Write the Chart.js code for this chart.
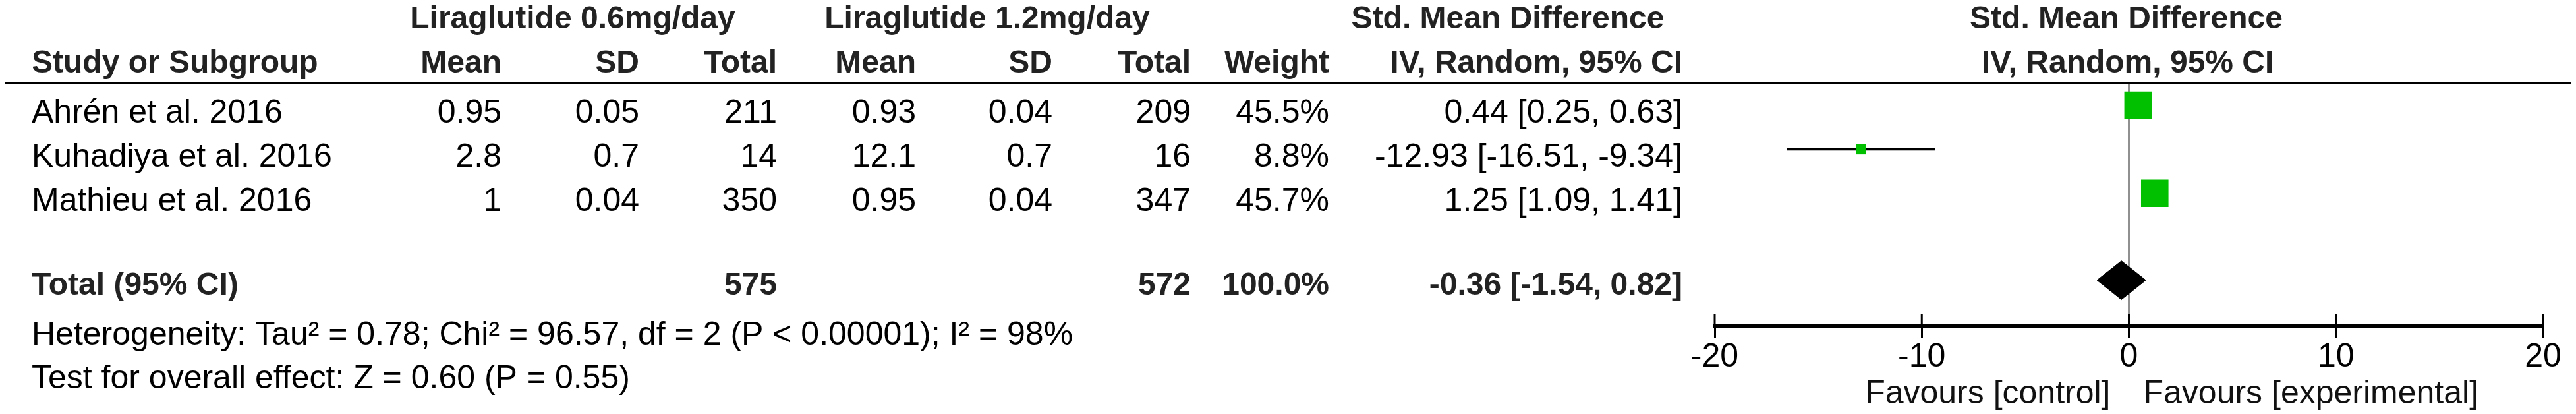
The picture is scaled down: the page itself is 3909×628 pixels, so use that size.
<!DOCTYPE html>
<html>
<head>
<meta charset="utf-8">
<script src="https://cdn.jsdelivr.net/npm/chart.js@4.4.1/dist/chart.umd.min.js"></script>
<style>
  html, body { margin: 0; padding: 0; background: #fff; }
  #wrap { width: 3909px; height: 628px; }
</style>
</head>
<body>
<div id="wrap"><canvas id="forest"></canvas></div>
<script>
// study data
const studies = ['Ahrén et al. 2016', 'Kuhadiya et al. 2016', 'Mathieu et al. 2016'];
const mean06 = [0.95, 2.8, 1];
const sd06 = [0.05, 0.7, 0.04];
const total06 = [211, 14, 350];
const mean12 = [0.93, 12.1, 0.95];
const sd12 = [0.04, 0.7, 0.04];
const total12 = [209, 16, 347];
const weights = [45.5, 8.8, 45.7];
const smd = [0.44, -12.93, 1.25];
const ciLow = [0.25, -16.51, 1.09];
const ciHigh = [0.63, -9.34, 1.41];

// pooled result
const pooledTotal06 = 575;
const pooledTotal12 = 572;
const pooledWeight = 100.0;
const pooled = [-0.36, -1.54, 0.82]; // estimate, low, high

const xTicks = [-20, -10, 0, 10, 20];
const heterogeneity = 'Heterogeneity: Tau² = 0.78; Chi² = 96.57, df = 2 (P < 0.00001); I² = 98%';
const overallTest = 'Test for overall effect: Z = 0.60 (P = 0.55)';
const favours = ['Favours [control]', 'Favours [experimental]'];

// layout
const FONT = '"Liberation Sans", Arial, sans-serif';
const REG = '50px ' + FONT;
const BOLD = 'bold 48px ' + FONT;
const PLOT_TOP = 126, PLOT_BOTTOM = 494;
const TEXT_LEFT = 48;
const colRight = [761, 970, 1179, 1390, 1597, 1807, 2017, 2553];
const TOTAL_ROW = 4.47;

const fmt2 = v => v.toFixed(2);
const ciText = (e, l, h) => fmt2(e) + ' [' + fmt2(l) + ', ' + fmt2(h) + ']';

const squares = {
    data: smd.map((v, i) => ({ x: v, y: i + 0.5 })),
    pointStyle: 'rect',
    pointRadius: ctx => 4.2 * Math.pow(weights[ctx.dataIndex], 0.6) / Math.SQRT2,
    backgroundColor: '#00C000',
    borderWidth: 0,
    order: 0,
};

const ciLines = studies.map((s, i) => ({
    data: [{ x: ciLow[i], y: i + 0.5 }, { x: ciHigh[i], y: i + 0.5 }],
    showLine: true,
    borderColor: '#000',
    borderWidth: 4,
    pointRadius: 0,
    order: 1,
}));

const diamond = {
    data: [
        { x: pooled[1], y: TOTAL_ROW },
        { x: pooled[0], y: TOTAL_ROW - 0.44 },
        { x: pooled[2], y: TOTAL_ROW },
        { x: pooled[0], y: TOTAL_ROW + 0.44 },
        { x: pooled[1], y: TOTAL_ROW },
    ],
    showLine: true,
    fill: 'shape',
    backgroundColor: '#000',
    borderColor: '#000',
    borderWidth: 1,
    pointRadius: 0,
    order: 0,
};

function text(ctx, str, x, y, font, align, color) {
    ctx.font = font;
    ctx.textAlign = align;
    ctx.fillStyle = color || '#000';
    ctx.fillText(str, x, y);
}

const forestDecor = {
    id: 'forestDecor',
    beforeDatasetsDraw(chart) {
        // line of no effect
        const { ctx, chartArea, scales: { x } } = chart;
        const x0 = x.getPixelForValue(0);
        ctx.save();
        ctx.strokeStyle = '#222';
        ctx.lineWidth = 2;
        ctx.beginPath();
        ctx.moveTo(x0, chartArea.top);
        ctx.lineTo(x0, chartArea.bottom);
        ctx.stroke();
        ctx.restore();
    },
    afterDraw(chart) {
        const { ctx, chartArea, scales: { x, y } } = chart;
        const x0 = x.getPixelForValue(0);
        ctx.save();

        // heavy header rule
        ctx.strokeStyle = '#000';
        ctx.lineWidth = 4;
        ctx.beginPath();
        ctx.moveTo(7, chartArea.top);
        ctx.lineTo(3902, chartArea.top);
        ctx.stroke();

        // tick marks above the axis
        ctx.lineWidth = 3;
        xTicks.forEach(v => {
            const px = x.getPixelForValue(v);
            ctx.beginPath();
            ctx.moveTo(px, chartArea.bottom - 18);
            ctx.lineTo(px, chartArea.bottom);
            ctx.stroke();
        });

        ctx.textBaseline = 'alphabetic';
        const H = '#222';
        // header row 1
        text(ctx, 'Liraglutide 0.6mg/day', 869, 43, BOLD, 'center', H);
        text(ctx, 'Liraglutide 1.2mg/day', 1498, 43, BOLD, 'center', H);
        text(ctx, 'Std. Mean Difference', 2288, 43, BOLD, 'center', H);
        text(ctx, 'Std. Mean Difference', x0 - 4, 43, BOLD, 'center', H);
        // header row 2
        text(ctx, 'Study or Subgroup', TEXT_LEFT, 110, BOLD, 'left', H);
        ['Mean', 'SD', 'Total', 'Mean', 'SD', 'Total', 'Weight', 'IV, Random, 95% CI']
            .forEach((h, c) => text(ctx, h, colRight[c], 110, BOLD, 'right', H));
        text(ctx, 'IV, Random, 95% CI', x0 - 2, 110, BOLD, 'center', H);

        // study rows
        studies.forEach((s, i) => {
            const by = y.getPixelForValue(i + 0.5) + 27;
            const cells = [mean06[i], sd06[i], total06[i], mean12[i], sd12[i], total12[i],
                weights[i].toFixed(1) + '%', ciText(smd[i], ciLow[i], ciHigh[i])];
            text(ctx, s, TEXT_LEFT, by, REG, 'left');
            cells.forEach((v, c) => text(ctx, String(v), colRight[c], by, REG, 'right'));
        });

        // total row
        text(ctx, 'Total (95% CI)', TEXT_LEFT, 447, BOLD, 'left', H);
        text(ctx, String(pooledTotal06), colRight[2], 447, BOLD, 'right', H);
        text(ctx, String(pooledTotal12), colRight[5], 447, BOLD, 'right', H);
        text(ctx, pooledWeight.toFixed(1) + '%', colRight[6], 447, BOLD, 'right', H);
        text(ctx, ciText(pooled[0], pooled[1], pooled[2]), colRight[7], 447, BOLD, 'right', H);

        // footnotes
        text(ctx, heterogeneity, TEXT_LEFT, 523, REG, 'left');
        text(ctx, overallTest, TEXT_LEFT, 589, REG, 'left');

        // favours labels
        text(ctx, favours[0], x0 - 28, 612, REG, 'right', '#111');
        text(ctx, favours[1], x0 + 22, 612, REG, 'left', '#111');

        ctx.restore();
    }
};

new Chart(document.getElementById('forest'), {
    type: 'scatter',
    data: { datasets: [squares, diamond, ...ciLines] },
    options: {
        responsive: true,
        maintainAspectRatio: false,
        animation: false,
        events: [],
        layout: { padding: { left: 2602, right: 50, top: PLOT_TOP, bottom: 0 } },
        plugins: {
            legend: { display: false },
            tooltip: { enabled: false },
            title: { display: false },
        },
        scales: {
            x: {
                type: 'linear',
                min: -20,
                max: 20,
                afterBuildTicks: s => { s.ticks = xTicks.map(v => ({ value: v })); },
                // keep the axis line where the reference has it
                afterFit: s => { s.height = s.chart.height - PLOT_BOTTOM; },
                grid: { drawOnChartArea: false, drawTicks: true, tickLength: 18, tickWidth: 3, tickColor: '#000' },
                border: { display: true, color: '#000', width: 5 },
                ticks: { color: '#000', font: { family: FONT, size: 50 }, padding: 0, maxRotation: 0, autoSkip: false },
            },
            y: {
                type: 'linear',
                reverse: true,
                min: 0,
                max: 5.5,
                display: false,
            },
        },
    },
    plugins: [forestDecor],
});
</script>
</body>
</html>
